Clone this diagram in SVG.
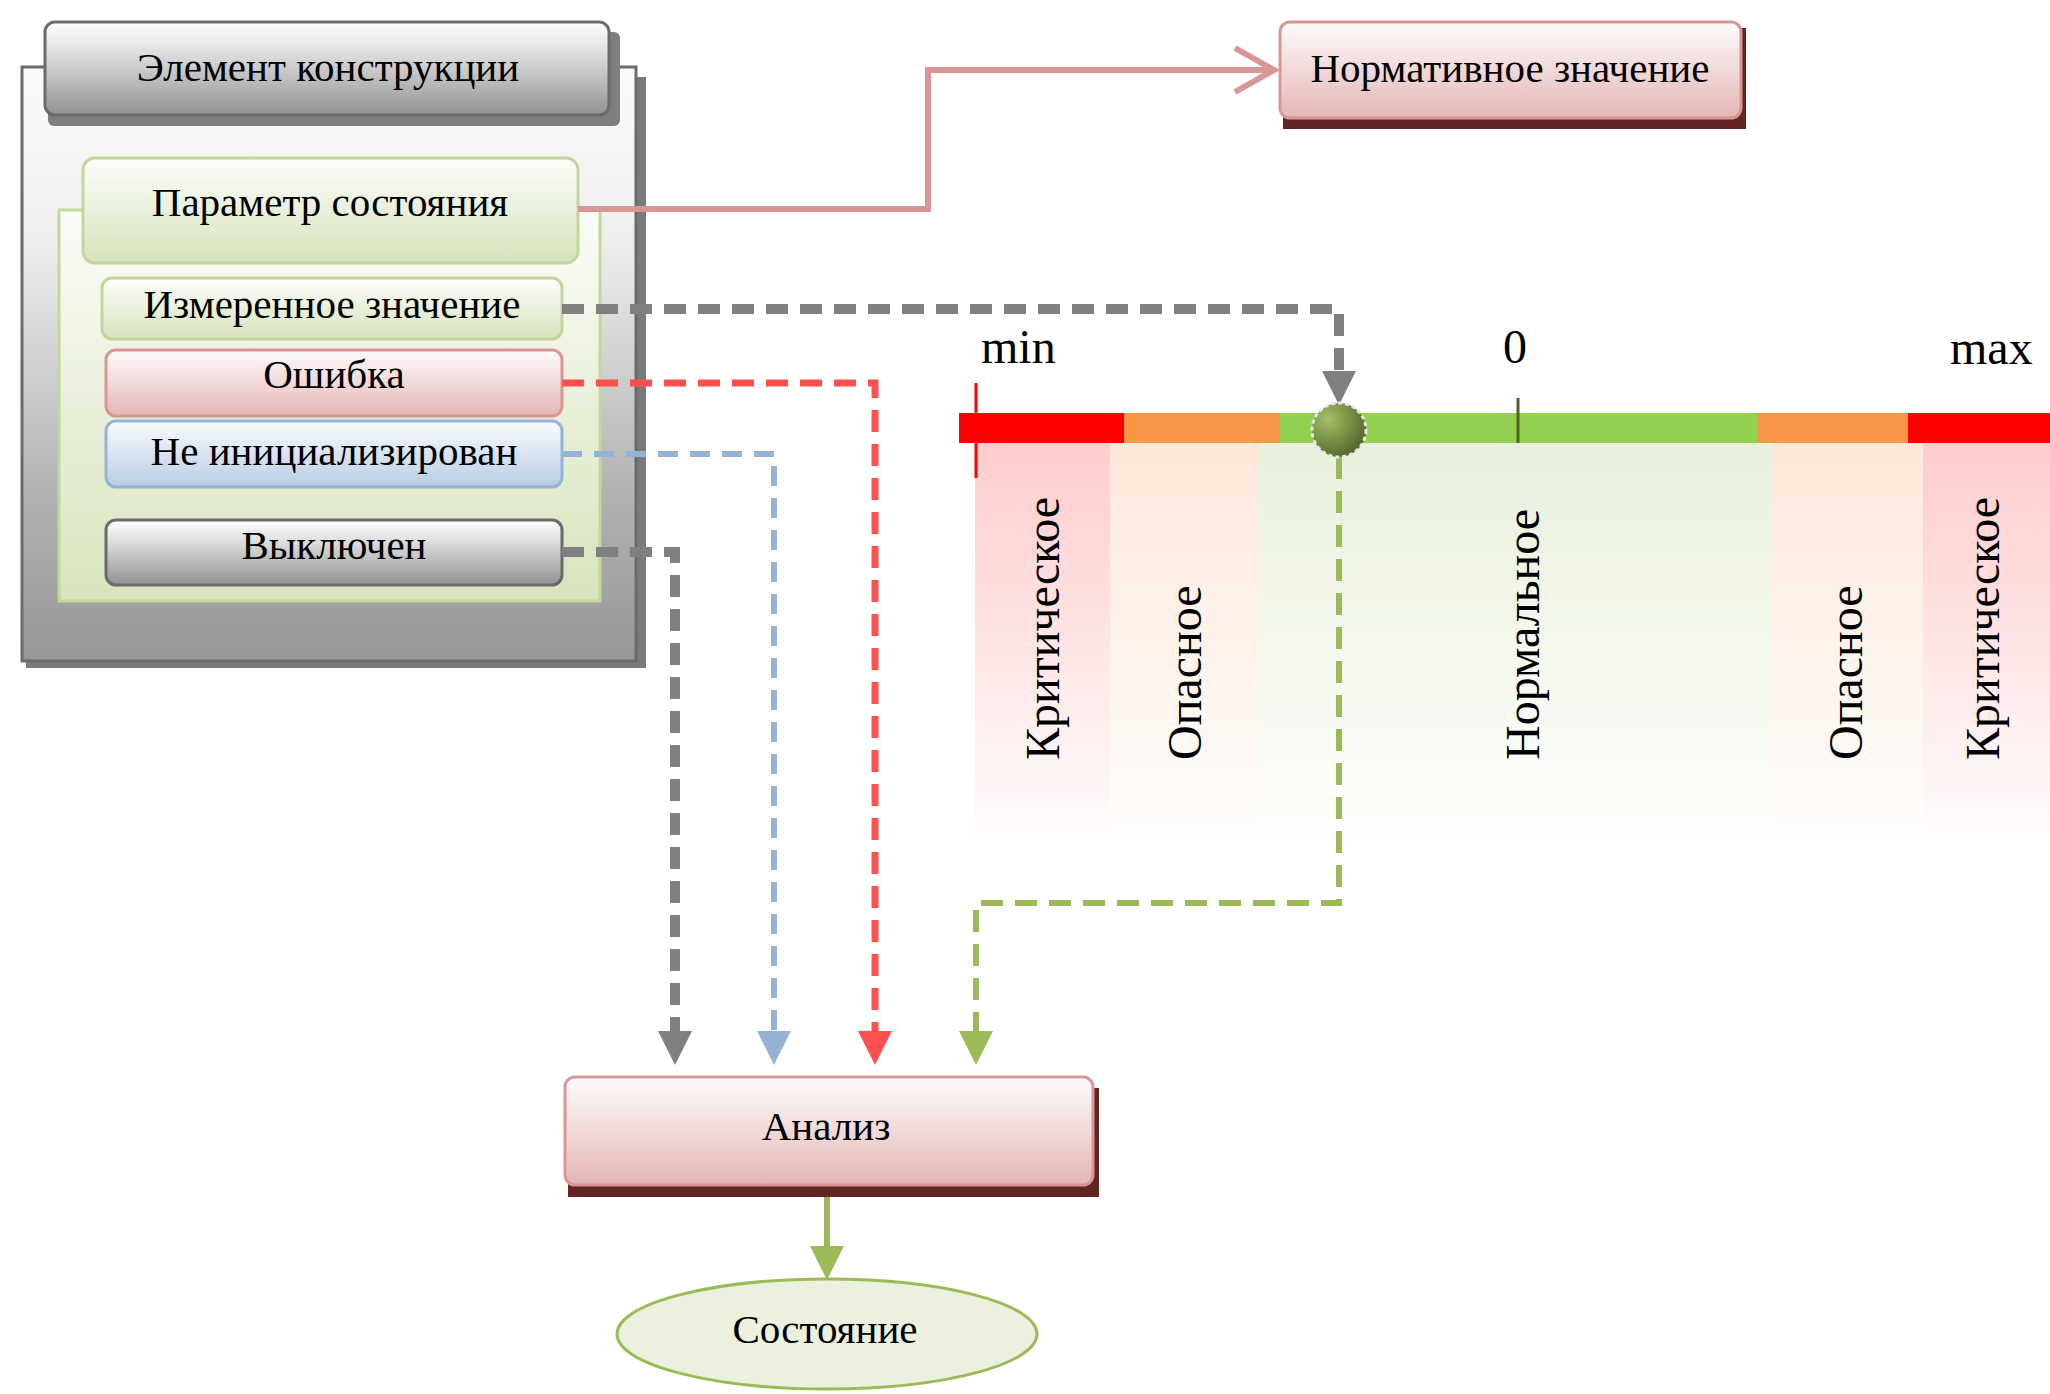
<svg xmlns="http://www.w3.org/2000/svg" width="2050" height="1394" viewBox="0 0 2050 1394">
  <defs>
    <style>
      .t { font-family: "Liberation Serif", "Times New Roman", serif; font-size: 41px; fill: #000; text-anchor: middle; }
      .lbl { font-family: "Liberation Serif", "Times New Roman", serif; font-size: 48px; fill: #000; }
      .zone-lbl { font-family: "Liberation Serif", "Times New Roman", serif; font-size: 48px; fill: #000; text-anchor: start; }
      .box { stroke-width: 3; }
      .green { fill: url(#gGreen); stroke: #c3d69b; }
      .pink { fill: url(#gPink); stroke: #d99694; }
      .blue { fill: url(#gBlue); stroke: #95b3d7; }
      .gray { fill: url(#gGray); stroke: #6b6b6b; }
      .conn { fill: none; }
    </style>
    <linearGradient id="gGray" x1="0" y1="0" x2="0" y2="1">
      <stop offset="0" stop-color="#ffffff"/>
      <stop offset="0.35" stop-color="#dcdcdc"/>
      <stop offset="1" stop-color="#929292"/>
    </linearGradient>
    <linearGradient id="gFrame" x1="0" y1="0" x2="0" y2="1">
      <stop offset="0" stop-color="#fbfbfb"/>
      <stop offset="0.3" stop-color="#eeeeee"/>
      <stop offset="0.7" stop-color="#b4b4b4"/>
      <stop offset="1" stop-color="#979797"/>
    </linearGradient>
    <linearGradient id="gPanel" x1="0" y1="0" x2="0" y2="1">
      <stop offset="0" stop-color="#fbfcf8"/>
      <stop offset="1" stop-color="#d8e4bd"/>
    </linearGradient>
    <linearGradient id="gGreen" x1="0" y1="0" x2="0" y2="1">
      <stop offset="0" stop-color="#fdfefb"/>
      <stop offset="1" stop-color="#d6e3bb"/>
    </linearGradient>
    <linearGradient id="gPink" x1="0" y1="0" x2="0" y2="1">
      <stop offset="0" stop-color="#fefcfc"/>
      <stop offset="1" stop-color="#e4b6b5"/>
    </linearGradient>
    <linearGradient id="gBlue" x1="0" y1="0" x2="0" y2="1">
      <stop offset="0" stop-color="#fbfcfe"/>
      <stop offset="1" stop-color="#b8cce4"/>
    </linearGradient>
    <linearGradient id="zPink" x1="0" y1="0" x2="0" y2="1">
      <stop offset="0" stop-color="#fecccc"/>
      <stop offset="1" stop-color="#fffdfd"/>
    </linearGradient>
    <linearGradient id="zPeach" x1="0" y1="0" x2="0" y2="1">
      <stop offset="0" stop-color="#fce8d9"/>
      <stop offset="1" stop-color="#fffefd"/>
    </linearGradient>
    <linearGradient id="zGreen" x1="0" y1="0" x2="0" y2="1">
      <stop offset="0" stop-color="#e9f0dc"/>
      <stop offset="1" stop-color="#fefffd"/>
    </linearGradient>
    <radialGradient id="gMarker" cx="0.3" cy="0.3" r="0.8">
      <stop offset="0" stop-color="#a6bf66"/>
      <stop offset="1" stop-color="#4f6228"/>
    </radialGradient>
    <marker id="aGray" markerUnits="userSpaceOnUse" markerWidth="34" markerHeight="34" viewBox="0 0 34 34" refX="0" refY="17" orient="auto">
      <path d="M0,0 L34,17 L0,34 Z" fill="#808080"/>
    </marker>
    <marker id="aRed" markerUnits="userSpaceOnUse" markerWidth="34" markerHeight="34" viewBox="0 0 34 34" refX="0" refY="17" orient="auto">
      <path d="M0,0 L34,17 L0,34 Z" fill="#ff5050"/>
    </marker>
    <marker id="aBlue" markerUnits="userSpaceOnUse" markerWidth="34" markerHeight="34" viewBox="0 0 34 34" refX="0" refY="17" orient="auto">
      <path d="M0,0 L34,17 L0,34 Z" fill="#95b3d7"/>
    </marker>
    <marker id="aGreen" markerUnits="userSpaceOnUse" markerWidth="34" markerHeight="34" viewBox="0 0 34 34" refX="0" refY="17" orient="auto">
      <path d="M0,0 L34,17 L0,34 Z" fill="#9bbb59"/>
    </marker>
    <marker id="aOpen" markerUnits="userSpaceOnUse" markerWidth="48" markerHeight="52" viewBox="0 0 48 52" refX="43" refY="26" orient="auto" overflow="visible">
      <path d="M4,4 L43,26 L4,48" fill="none" stroke="#d99694" stroke-width="6"/>
    </marker>
  </defs>

  <rect width="2050" height="1394" fill="#ffffff"/>

  <!-- state scale: zones, bar, ticks and labels -->
  <g id="scale">
    <rect x="975" y="443" width="135" height="395" fill="url(#zPink)"/>
    <rect x="1110" y="443" width="150" height="395" fill="url(#zPeach)"/>
    <rect x="1260" y="443" width="512" height="395" fill="url(#zGreen)"/>
    <rect x="1772" y="443" width="151" height="395" fill="url(#zPeach)"/>
    <rect x="1923" y="443" width="127" height="395" fill="url(#zPink)"/>

    <rect x="959" y="413" width="165" height="30" fill="#ff0000"/>
    <rect x="1124" y="413" width="156" height="30" fill="#f79646"/>
    <rect x="1280" y="413" width="477" height="30" fill="#92d050"/>
    <rect x="1757" y="413" width="151" height="30" fill="#f79646"/>
    <rect x="1908" y="413" width="142" height="30" fill="#ff0000"/>

    <line x1="976" y1="383" x2="976" y2="478" stroke="#ff0000" stroke-width="3"/>
    <line x1="1518" y1="398" x2="1518" y2="443" stroke="#4f6228" stroke-width="3"/>

    <text class="lbl" x="981" y="363">min</text>
    <text class="lbl" x="1515" y="363" text-anchor="middle">0</text>
    <text class="lbl" x="1950" y="364">max</text>

    <text class="zone-lbl" transform="translate(1059,760) rotate(-90)">Критическое</text>
    <text class="zone-lbl" transform="translate(1201,760) rotate(-90)">Опасное</text>
    <text class="zone-lbl" transform="translate(1539,760) rotate(-90)">Нормальное</text>
    <text class="zone-lbl" transform="translate(1862,760) rotate(-90)">Опасное</text>
    <text class="zone-lbl" transform="translate(1999,760) rotate(-90)">Критическое</text>
  </g>

  <!-- structural element container -->
  <g id="element">
    <rect x="26" y="77" width="620" height="591" fill="#7a7a7a"/>
    <rect x="22" y="67" width="614" height="594" fill="url(#gFrame)" stroke="#6b6b6b" stroke-width="3"/>
    <rect x="48" y="32" width="572" height="94" rx="6" fill="#7f7f7f"/>
    <rect class="box gray" x="45" y="22" width="564" height="93" rx="10"/>
    <text class="t" x="328" y="81">Элемент конструкции</text>
  </g>

  <g id="param-panel">
    <rect x="59" y="210" width="541" height="391" fill="url(#gPanel)" stroke="#c3d69b" stroke-width="3"/>
  </g>

  <g id="param">
    <rect class="box green" x="83" y="158" width="495" height="105" rx="12"/>
    <text class="t" x="330" y="216">Параметр состояния</text>
  </g>

  <g id="measured">
    <rect class="box green" x="102" y="278" width="460" height="61" rx="10"/>
    <text class="t" x="332" y="318">Измеренное значение</text>
  </g>

  <g id="error">
    <rect class="box pink" x="106" y="350" width="456" height="66" rx="10"/>
    <text class="t" x="334" y="388">Ошибка</text>
  </g>

  <g id="not-initialized">
    <rect class="box blue" x="106" y="421" width="456" height="66" rx="10"/>
    <text class="t" x="334" y="465">Не инициализирован</text>
  </g>

  <g id="switched-off">
    <rect class="box gray" x="106" y="520" width="456" height="65" rx="10"/>
    <text class="t" x="334" y="559">Выключен</text>
  </g>

  <g id="norm-value">
    <rect x="1283" y="28" width="463" height="101" fill="#632523"/>
    <rect class="box pink" x="1280" y="22" width="461" height="96" rx="10"/>
    <text class="t" x="1510" y="82">Нормативное значение</text>
  </g>

  <g id="analysis">
    <rect x="568" y="1088" width="531" height="109" fill="#632523"/>
    <rect class="box pink" x="565" y="1077" width="528" height="108" rx="10"/>
    <text class="t" x="826" y="1140">Анализ</text>
  </g>

  <g id="state">
    <ellipse cx="827" cy="1334" rx="210" ry="55" fill="#ebf1de" stroke="#9bbb59" stroke-width="3"/>
    <text class="t" x="825" y="1343">Состояние</text>
  </g>

  <!-- connectors -->
  <g id="connectors" class="conn">
    <path d="M578,209 H928 V70 H1274" stroke="#d99694" stroke-width="6" fill="none" marker-end="url(#aOpen)"/>
    <path d="M562,309 H1339 V371" stroke="#808080" stroke-width="10" stroke-dasharray="22 12" fill="none" marker-end="url(#aGray)"/>
    <path d="M562,383 H875 V1031" stroke="#ff5050" stroke-width="7" stroke-dasharray="22 12" fill="none" marker-end="url(#aRed)"/>
    <path d="M562,454 H774 V1031" stroke="#95b3d7" stroke-width="6" stroke-dasharray="20 12" fill="none" marker-end="url(#aBlue)"/>
    <path d="M562,552 H675 V1031" stroke="#808080" stroke-width="10" stroke-dasharray="22 12" fill="none" marker-end="url(#aGray)"/>
    <path d="M1339,457 V903 H976 V1031" stroke="#9bbb59" stroke-width="6" stroke-dasharray="22 12" fill="none" marker-end="url(#aGreen)"/>
    <path d="M827,1197 V1246" stroke="#9bbb59" stroke-width="6" fill="none" marker-end="url(#aGreen)"/>
  </g>

  <!-- current value marker on the scale -->
  <g id="marker">
    <circle cx="1339" cy="430" r="27" fill="url(#gMarker)" stroke="#e8e8e8" stroke-width="3" stroke-dasharray="4 3"/>
  </g>
</svg>
